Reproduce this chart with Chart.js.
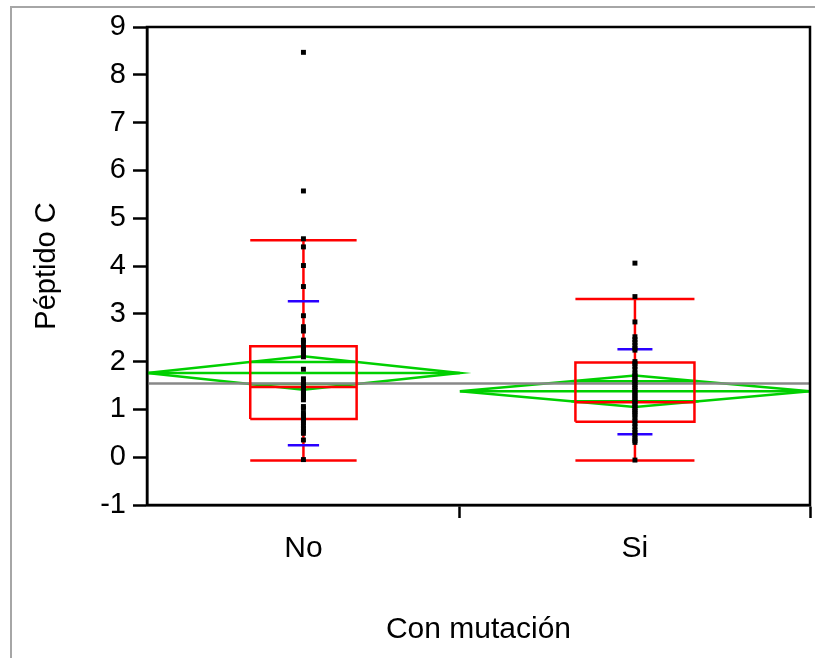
<!DOCTYPE html>
<html>
<head>
<meta charset="utf-8">
<script src="https://cdn.jsdelivr.net/npm/chart.js@4/dist/chart.umd.min.js"></script>
<style>
    body { margin: 0; background: #fff; }
    canvas { display: block; }
</style>
</head>
<body>
<canvas id="chart" width="815" height="658"></canvas>
<script>
// Datos (Péptido C por grupo)
const grupos = ['No', 'Si'];
const puntosNo = [8.47, 5.57, 4.57, 4.40, 4.01, 3.57, 2.96, 2.73, 2.64, 2.45, 2.40, 2.30, 2.25, 2.20,
    2.15, 2.10, 1.84, 1.64, 1.58, 1.52, 1.48, 1.45, 1.40, 1.36, 1.32, 1.28, 1.24, 1.20, 1.06, 1.02,
    0.92, 0.88, 0.84, 0.80, 0.76, 0.72, 0.66, 0.60, 0.55, 0.50, 0.36, -0.05];
const puntosSi = [4.06, 3.36, 2.83, 2.52, 2.46, 2.40, 2.34, 2.28, 2.24, 2.00, 1.96, 1.90, 1.84, 1.76,
    1.72, 1.68, 1.64, 1.60, 1.56, 1.52, 1.48, 1.44, 1.40, 1.36, 1.32, 1.28, 1.24, 1.20, 1.16, 1.12,
    1.08, 1.04, 1.00, 0.96, 0.92, 0.88, 0.82, 0.76, 0.70, 0.64, 0.57, 0.52, 0.46, 0.40, 0.35, 0.31, -0.06];

// Cuartiles y bigotes
const cuartil1 = [0.80, 0.74];
const mediana = [1.47, 1.15];
const cuartil3 = [2.32, 1.98];
const bigoteInf = [-0.07, -0.07];
const bigoteSup = [4.54, 3.31];
// Desviación estándar (líneas azules)
const desvInf = [0.25, 0.48];
const desvSup = [3.26, 2.26];
// Diamantes de medias
const medias = [1.76, 1.38];
const icMedio = [0.35, 0.33];
const solapeSup = [1.99, 1.59];
const solapeInf = [1.53, 1.17];
const mediaGlobal = 1.54;
const ticksY = [-1, 0, 1, 2, 3, 4, 5, 6, 7, 8, 9];

// Ancho de cada grupo proporcional al número de observaciones
const todos = [puntosNo, puntosSi];
const totalN = todos.reduce((a, p) => a + p.length, 0);
const limites = [];
let acum = 0;
todos.forEach(p => {
    const izq = acum / totalN;
    acum += p.length;
    limites.push({ izq: izq, der: acum / totalN, centro: (izq + acum / totalN) / 2 });
});

const datasets = [];

function segmento(puntos, color, ancho, orden) {
    datasets.push({
        data: puntos,
        showLine: true,
        borderColor: color,
        borderWidth: ancho,
        pointRadius: 0,
        fill: false,
        tension: 0,
        order: orden
    });
}

const ROJO = '#ff0000';
const VERDE = '#00d000';
const AZUL = '#2a00ff';

grupos.forEach((g, i) => {
    const L = limites[i];
    const w = L.der - L.izq;
    const c = L.centro;
    const bx = w * 0.17;   // media anchura de la caja
    const sx = w * 0.05;   // media anchura de las marcas de desviación

    // Diamante de medias
    segmento([
        { x: L.izq, y: medias[i] },
        { x: c, y: medias[i] + icMedio[i] },
        { x: L.der, y: medias[i] },
        { x: c, y: medias[i] - icMedio[i] },
        { x: L.izq, y: medias[i] }
    ], VERDE, 2.5, 5);
    segmento([{ x: L.izq, y: medias[i] }, { x: L.der, y: medias[i] }], VERDE, 2.5, 5);
    const fs = 1 - (solapeSup[i] - medias[i]) / icMedio[i];
    const fi = 1 - (medias[i] - solapeInf[i]) / icMedio[i];
    segmento([{ x: c - w / 2 * fs, y: solapeSup[i] }, { x: c + w / 2 * fs, y: solapeSup[i] }], VERDE, 2.5, 5);
    segmento([{ x: c - w / 2 * fi, y: solapeInf[i] }, { x: c + w / 2 * fi, y: solapeInf[i] }], VERDE, 2.5, 5);

    // Caja
    segmento([
        { x: c - bx, y: cuartil1[i] },
        { x: c + bx, y: cuartil1[i] },
        { x: c + bx, y: cuartil3[i] },
        { x: c - bx, y: cuartil3[i] },
        { x: c - bx, y: cuartil1[i] }
    ], ROJO, 2.5, 3);
    segmento([{ x: c - bx, y: mediana[i] }, { x: c + bx, y: mediana[i] }], ROJO, 2.5, 3);
    // Bigotes
    segmento([{ x: c, y: bigoteInf[i] }, { x: c, y: cuartil1[i] }], ROJO, 2.5, 3);
    segmento([{ x: c, y: cuartil3[i] }, { x: c, y: bigoteSup[i] }], ROJO, 2.5, 3);
    segmento([{ x: c - bx, y: bigoteInf[i] }, { x: c + bx, y: bigoteInf[i] }], ROJO, 2.5, 3);
    segmento([{ x: c - bx, y: bigoteSup[i] }, { x: c + bx, y: bigoteSup[i] }], ROJO, 2.5, 3);

    // Desviación estándar
    segmento([{ x: c - sx, y: desvInf[i] }, { x: c + sx, y: desvInf[i] }], AZUL, 2.5, 2);
    segmento([{ x: c - sx, y: desvSup[i] }, { x: c + sx, y: desvSup[i] }], AZUL, 2.5, 2);

    // Observaciones
    datasets.push({
        data: todos[i].map(v => ({ x: c, y: v })),
        showLine: false,
        pointStyle: 'rect',
        pointRadius: 3.5,
        pointBorderWidth: 0,
        backgroundColor: '#000',
        borderColor: '#000',
        order: 0
    });
});

// Media global
segmento([{ x: 0, y: mediaGlobal }, { x: 1, y: mediaGlobal }], '#888888', 2.5, 4);

const FUENTE = '"Liberation Sans", Arial, sans-serif';

// Marcos: borde gris exterior y rectángulo negro del área de trazado
const marcos = {
    id: 'marcos',
    beforeDraw(chart) {
        const ctx = chart.ctx;
        ctx.save();
        ctx.fillStyle = '#fff';
        ctx.fillRect(0, 0, chart.width, chart.height);
        ctx.strokeStyle = '#a6a6a6';
        ctx.lineWidth = 2;
        ctx.strokeRect(11, 7, 900, 800);
        ctx.restore();
    },
    afterDatasetsDraw(chart) {
        const a = chart.chartArea;
        const ctx = chart.ctx;
        ctx.save();
        ctx.strokeStyle = '#000';
        ctx.lineWidth = 2.5;
        ctx.strokeRect(a.left, a.top, a.right - a.left, a.bottom - a.top);
        ctx.restore();
    }
};

const centros = limites.map(l => l.centro);

new Chart(document.getElementById('chart'), {
    type: 'scatter',
    data: { datasets: datasets },
    options: {
        responsive: false,
        animation: false,
        layout: { padding: { top: 27, right: 5, left: 0, bottom: 0 } },
        plugins: {
            legend: { display: false },
            tooltip: { enabled: false }
        },
        scales: {
            x: {
                type: 'linear',
                min: 0,
                max: 1,
                afterBuildTicks: (s) => {
                    const vals = [centros[0], limites[0].der, centros[1], 1];
                    s.ticks = vals.map(v => ({ value: v }));
                },
                afterFit: (s) => {
                    s.height = 153;
                    s.paddingLeft = 0;
                    s.paddingRight = 0;
                },
                ticks: {
                    autoSkip: false,
                    maxRotation: 0,
                    padding: 13,
                    color: '#000',
                    font: { family: FUENTE, size: 30 },
                    callback: (v) => {
                        const k = centros.indexOf(v);
                        return k >= 0 ? grupos[k] : '';
                    }
                },
                grid: {
                    drawOnChartArea: false,
                    tickLength: 13,
                    tickWidth: 2.5,
                    tickColor: (ctx) => (ctx.tick && centros.indexOf(ctx.tick.value) >= 0) ? 'transparent' : '#000'
                },
                border: { display: true, color: '#000', width: 2.5 },
                title: {
                    display: true,
                    text: 'Con mutación',
                    color: '#000',
                    font: { family: FUENTE, size: 30 },
                    padding: { top: 0, bottom: 10 }
                }
            },
            y: {
                min: -1,
                max: 9,
                afterBuildTicks: (s) => { s.ticks = ticksY.map(v => ({ value: v })); },
                afterFit: (s) => { s.width = 147; },
                ticks: {
                    padding: 7,
                    color: '#000',
                    font: { family: FUENTE, size: 29 }
                },
                grid: {
                    drawOnChartArea: false,
                    tickLength: 14,
                    tickWidth: 2.5,
                    tickColor: '#000'
                },
                border: { display: true, color: '#000', width: 2.5 },
                title: {
                    display: true,
                    text: 'Péptido C',
                    color: '#000',
                    font: { family: FUENTE, size: 29 },
                    padding: { top: 30, bottom: 0 }
                }
            }
        }
    },
    plugins: [marcos]
});
</script>
</body>
</html>
